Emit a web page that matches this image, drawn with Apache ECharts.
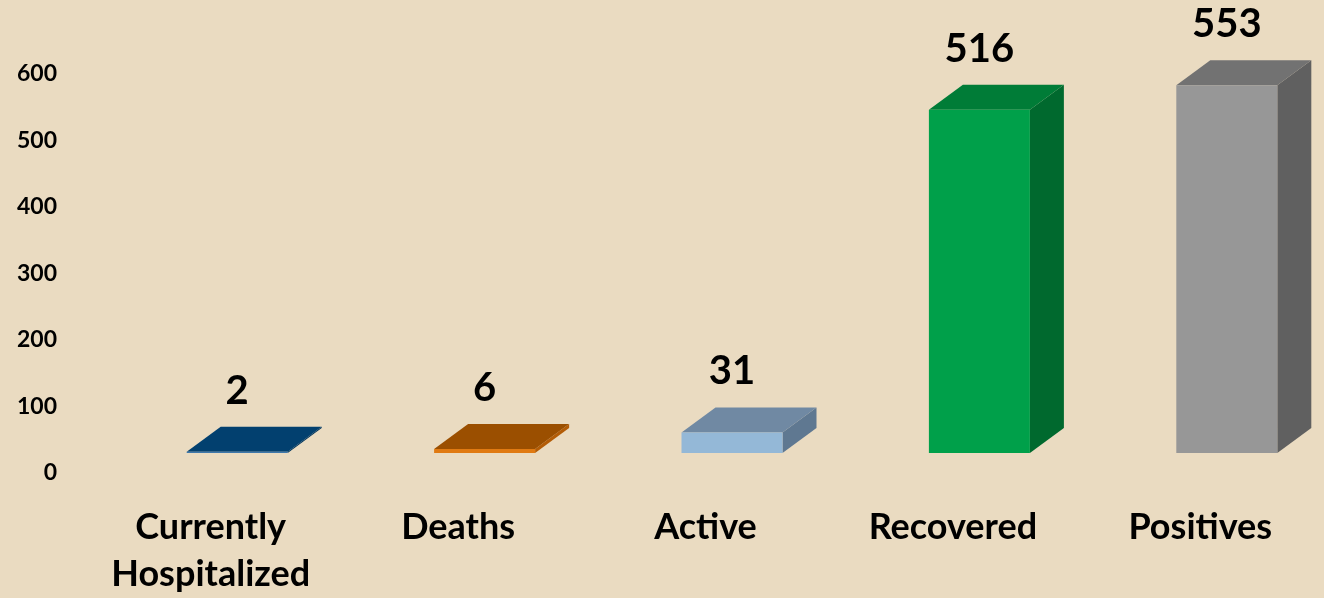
<!DOCTYPE html>
<html>
<head>
<meta charset="utf-8">
<title>Cases</title>
<script src="https://cdn.jsdelivr.net/npm/echarts@6/dist/echarts.min.js"></script>
<style>
html,body{margin:0;padding:0;background:#EADBC1;}
#main{width:1324px;height:598px;}
</style>
</head>
<body>
<div id="main"></div>
<script>
var categories = ['Currently\nHospitalized', 'Deaths', 'Active', 'Recovered', 'Positives'];
var values = [2, 6, 31, 516, 553];
var yTicks = [0, 100, 200, 300, 400, 500, 600];

// 每个柱子的颜色：正面 / 顶面 / 侧面
var faceColors = [
  ['#3f78ab', '#02406f', '#01345c'],
  ['#e07a12', '#9b4f00', '#b35c06'],
  ['#94b8d7', '#7089a3', '#5f7891'],
  ['#00a04a', '#007c37', '#00692e'],
  ['#979797', '#727272', '#606060']
];

// 立体柱子的尺寸（像素）
var BAR_OFF_X = -24;   // 正面左边相对类目中心
var BAR_W = 101;
var BAR_OFF_Y = -20;   // 正面相对坐标轴的上移
var DEPTH_X = 34;
var DEPTH_Y = -25;
var FONT = 'Lato, "Liberation Sans", sans-serif';

function renderBar(params, api) {
  var i = api.value(0);
  var v = api.value(1);
  var base = api.coord([i, 0]);
  var top = api.coord([i, v]);
  var x0 = base[0] + BAR_OFF_X;
  var x1 = x0 + BAR_W;
  var yb = base[1] + BAR_OFF_Y;
  var yt = top[1] + BAR_OFF_Y;
  var c = faceColors[i];
  return {
    type: 'group',
    children: [
      { // 侧面
        type: 'polygon',
        shape: {points: [[x1, yb], [x1 + DEPTH_X, yb + DEPTH_Y], [x1 + DEPTH_X, yt + DEPTH_Y], [x1, yt]]},
        style: {fill: c[2]}
      },
      { // 顶面
        type: 'polygon',
        shape: {points: [[x0, yt], [x0 + DEPTH_X, yt + DEPTH_Y], [x1 + DEPTH_X, yt + DEPTH_Y], [x1, yt]]},
        style: {fill: c[1]}
      },
      { // 正面
        type: 'rect',
        shape: {x: x0, y: yt, width: BAR_W, height: Math.max(yb - yt, 1)},
        style: {fill: c[0]}
      },
      { // 数值
        type: 'text',
        style: {
          text: String(v),
          x: (x0 + x1) / 2,
          y: yt + DEPTH_Y - 36,
          align: 'center',
          verticalAlign: 'middle',
          fill: '#000',
          font: 'bold 40px ' + FONT
        }
      }
    ]
  };
}

var chart = echarts.init(document.getElementById('main'));
chart.setOption({
  backgroundColor: '#EADBC1',
  animation: false,
  grid: {left: 87, top: 74, bottom: 125, width: 1242.5},
  xAxis: {
    type: 'category',
    data: categories,
    axisLine: {show: false},
    axisTick: {show: false},
    axisLabel: {
      interval: 0,
      margin: 31,
      color: '#000',
      fontFamily: FONT,
      fontWeight: 'bold',
      fontSize: 36,
      lineHeight: 47
    }
  },
  yAxis: {
    type: 'value',
    min: yTicks[0],
    max: yTicks[yTicks.length - 1],
    interval: yTicks[1] - yTicks[0],
    splitLine: {show: false},
    axisLine: {show: false},
    axisTick: {show: false},
    axisLabel: {
      margin: 30,
      color: '#000',
      fontFamily: FONT,
      fontWeight: 'bold',
      fontSize: 23
    }
  },
  series: [{
    type: 'custom',
    renderItem: renderBar,
    encode: {x: 0, y: 1},
    data: values.map(function (v, i) { return [i, v]; })
  }]
});
</script>
</body>
</html>
